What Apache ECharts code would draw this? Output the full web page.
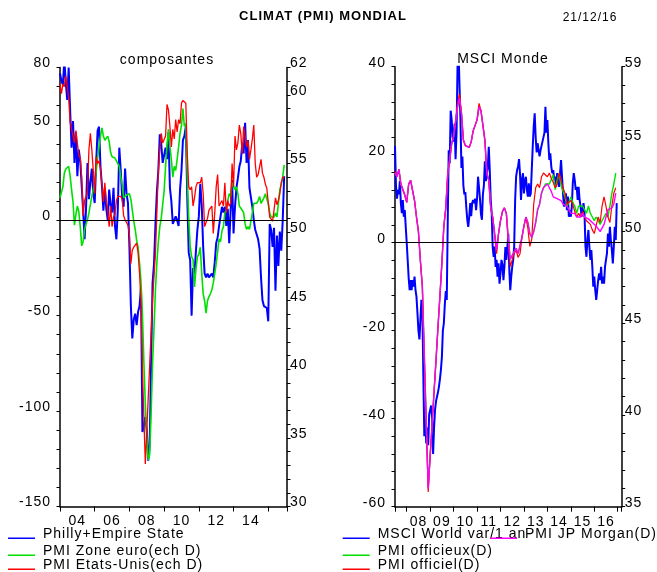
<!DOCTYPE html>
<html><head><meta charset="utf-8">
<script src="https://cdn.jsdelivr.net/npm/echarts@6/dist/echarts.min.js"></script>
<style>html,body{margin:0;padding:0;background:#fff}#c{width:657px;height:572px}</style>
</head><body><div id="c"></div>
<script>
// slight letter spacing to mimic the original rendering
(function(){
  var P = window.CanvasRenderingContext2D && CanvasRenderingContext2D.prototype;
  if (!P || !('letterSpacing' in P)) return;
  var f = P.fillText;
  P.fillText = function(){ this.letterSpacing = '1px'; return f.apply(this, arguments); };
})();

// ---------- LEFT PANEL : monthly, Jan 2004 .. Dec 2016 ----------
const leftStartYear = 2004;
const phillyEmpire = [
  77, 73, 71, 84, 72, 63, 80, 58, 38, 52, 30, 46,
  23, 37, 31, 18, 5, -10, 6, 30, 11, 20, 27, 14,
  9, 30, 47, 49, 28, 18, 5, 17, 6, 0, 16, 8,
  4, 17, -3, -10, 6, 38, 26, 12, 7, 27, 14, 9,
  -14, -45, -62, -52, -49, -55, -48, -45, -35, -111, -108, -103,
  -110, -126, -118, -75, -33, -23, -2, 15, 26, 45, 40, 30,
  30, 38, 32, 46, 17, 10, -2, -1, 2, 0, -3, 16,
  26, 42, 44, 49, 12, -17, -21, -50, -25, -28, -16, -5,
  2, 19, 8, -14, -28, -30, -28, -30, -31, -28, -30, -22,
  -12, -9, -3, 2, 7, 4, 7, -3, 6, -12, 5, 21,
  -7, 7, 17, 22, 28, 31, 40, 35, 51, 30, 42, 17,
  12, 7, 0, -5, -5, -10, -15, -30, -42, -45, -45, -46,
  -53, -2, -5, -14, -4, -37, -8, -24, -6, -16, 0, 23
];
const pmiEuro = [
  52.5, 52.6, 53.3, 54.3, 54.6, 54.5, 54.8, 54.1, 53.1, 52.2, 50.5, 51.3,
  51.9, 51.5, 50.4, 49.0, 49.3, 50.2, 50.6, 50.9, 51.4, 52.0, 52.6, 53.1,
  53.6, 54.4, 55.4, 56.2, 57.0, 57.6, 57.0, 56.7, 56.6, 57.0, 56.6, 55.8,
  55.5, 55.5, 55.4, 55.2, 55.1, 54.8, 54.0, 53.5, 52.5, 52.4, 52.7, 52.8,
  52.8, 52.4, 51.6, 50.8, 50.2, 49.4, 48.9, 47.7, 46.4, 44.0, 40.5, 37.5,
  35.0, 33.4, 33.8, 36.8, 40.4, 43.0, 45.8, 47.8, 49.3, 50.4, 51.0, 52.0,
  53.0, 54.8, 56.4, 57.5, 56.2, 55.3, 54.0, 54.8, 54.5, 55.3, 56.2, 57.2,
  57.8, 59.0, 57.7, 57.9, 54.0, 51.0, 49.0, 48.2, 48.0, 46.0, 47.3, 48.2,
  48.4, 48.9, 47.0, 45.5, 45.0, 44.1, 45.0, 45.3, 45.5, 45.8, 46.3, 47.0,
  47.7, 48.6, 49.5, 49.3, 50.1, 50.4, 51.4, 51.6, 52.3, 52.8, 52.6, 53.6,
  53.7, 53.1, 53.3, 52.8, 51.9, 51.9, 51.6, 51.4, 50.6, 50.2, 50.4, 50.2,
  50.8, 51.4, 52.1, 52.2, 52.1, 52.3, 52.6, 52.1, 52.3, 52.5, 52.8, 52.4,
  52.1, 51.4, 51.1, 51.1, 51.1, 51.4, 51.1, 52.1, 53.1, 53.5, 54.0, 54.9
];
const pmiUS = [
  60.8, 60.1, 60.8, 60.6, 61.4, 60.6, 59.8, 58.0, 57.9, 57.0, 56.5, 57.4,
  56.5, 55.6, 55.4, 54.0, 51.2, 52.3, 52.6, 53.0, 56.0, 57.2, 56.0, 54.5,
  52.8, 55.5, 55.0, 55.2, 54.6, 53.5, 52.2, 53.6, 52.2, 51.6, 50.4, 51.9,
  50.4, 51.1, 51.3, 52.3, 52.6, 52.6, 52.6, 52.4, 51.2, 50.9, 50.7, 50.5,
  49.8, 47.7, 48.7, 48.9, 48.8, 49.2, 48.5, 47.0, 45.0, 40.0, 36.5, 33.1,
  35.5, 37.9, 40.3, 42.7, 45.1, 46.8, 48.5, 51.5, 54.5, 56.0, 57.2, 56.5,
  56.5, 57.0, 59.3, 58.9, 57.7, 56.2, 57.5, 56.8, 58.2, 57.3, 58.2, 57.9,
  59.4, 59.6, 59.5, 59.4, 55.7, 53.3, 53.1, 53.3, 51.9, 52.5, 53.3, 53.6,
  53.5, 53.6, 54.0, 52.8, 50.4, 50.3, 51.0, 51.6, 51.6, 51.9, 49.9, 51.4,
  53.3, 54.2, 51.9, 52.1, 52.3, 51.9, 53.6, 51.4, 52.3, 51.9, 52.1, 55.0,
  53.3, 57.0, 56.0, 56.5, 57.8, 57.2, 55.7, 57.7, 57.0, 56.2, 56.7, 55.3,
  56.0, 56.8, 57.8, 55.0, 54.0, 54.2, 54.1, 55.3, 54.3, 54.0, 53.5, 53.2,
  53.3, 51.1, 51.2, 50.8, 51.6, 52.5, 52.0, 52.3, 52.8, 53.6, 54.0, 54.0
];

// ---------- RIGHT PANEL ----------
// MSCI World y/y, twice a month, Jul 2007 .. Dec 2016
const msciStart = 2007.5;
const msciWorld = [
  22, 13, 10, 12, 11, 14, 9, 6.7, 9.7, 5.9, 7.4, 3.6,
  0, -4, -8, -10.8, -8.5, -10.8, -8.5, -10, -7.7, -10.8, -12.3, -16, -20, -22, -17.6, -13, -14.5, -30, -44, -40, -45.6, -42, -46, -39,
  -38, -37, -40, -48, -42, -38, -36, -35, -34, -32.7, -31, -28.9, -26, -20, -18.3, -14, -11, -13, 5, 21, 18, 30, 28, 24,
  23, 27, 19, 25, 40, 44, 36, 28, 17, 19.6, 13, 11, 11.5, 8, 5.2, 3.6, 5.9, 9, 6, 9, 9.7, 9, 10, 7.4,
  10, 15, 15, 10, 6.5, 5.2, 11, 13, 18.5, 14, 15.8, 17, 21.8, 16.5, 9.7, 6.7, -0.9, -3.2, -0.9, -5.5, -3.9, -7.7, -4.7, -9.3,
  -7, -3.9, -5, -8.5, -5.5, -1, -3.9, -1, 2, -6, -10.8, -7.7, -5.5, -3.9, -0.9, 9.7, 15, 16.5, 17.3, 19, 15.5, 9.7, 14.2, 15.8,
  11.2, 14.2, 15, 12, 10.5, 13.5, 10.5, 11.2, 16.5, 21.8, 26.4, 29.4, 24, 20.5, 22.6, 23, 19.6, 21, 22, 22, 24, 25, 30.9, 25,
  27.9, 22.6, 18.8, 20.3, 17.3, 15.8, 16.5, 14.2, 15, 12.7, 15.8, 15, 12.7, 15.8, 18.8, 15, 11.2, 8.2, 9.7, 11.2, 7.4, 10.5, 5.9, 7.4,
  5.9, 8.2, 13.5, 15.8, 14.2, 12, 12.7, 9.7, 12.7, 9.7, 8.2, 5.9, 7.4, 9, 6.7, -0.9, -3.2, 0.6, 2.9, -0.9, -3.9, -1.7, -5.5, -10,
  -7.7, -10.8, -13, -12.6, -8.5, -7, -8.5, -5.5, -9.3, -7.7, -9.3, -5.5, -3.9, -2.4, 2.1, -0.9, 3.6, 0.6, -1.7, -4.7, -0.9, 3.6, 0.6, 9
];
// PMI series, monthly, Jul 2007 .. Dec 2016
const pmiStart = 2007.5;
const pmiJPMorgan = [
  53.2, 53.0, 53.4, 52.6, 52.3, 52.0,
  51.6, 52.6, 52.8, 52.8, 51.7, 50.8, 50.0, 48.4, 47.0, 43.3, 39.6, 36.0,
  37.8, 39.5, 41.3, 43.0, 44.8, 46.5, 48.3, 50.3, 51.3, 53.2, 53.9, 54.8,
  55.2, 56.0, 56.8, 57.3, 56.5, 55.0, 54.7, 54.6, 54.6, 54.9, 55.5, 55.8,
  56.1, 56.8, 56.6, 56.5, 55.0, 53.2, 52.8, 51.3, 50.8, 49.9, 49.0, 49.9,
  50.6, 51.1, 51.3, 51.0, 49.6, 48.5, 48.4, 48.9, 49.1, 48.8, 48.9, 49.7,
  50.3, 50.8, 50.5, 49.9, 49.7, 50.0, 50.5, 51.2, 51.5, 52.1, 52.4, 52.5,
  52.6, 52.5, 52.2, 51.9, 52.0, 51.8, 51.9, 51.7, 51.5, 51.5, 51.4, 51.2,
  51.0, 51.1, 51.0, 50.8, 50.9, 50.8, 51.0, 50.8, 50.7, 50.7, 50.6, 50.5,
  50.4, 50.3, 50.2, 50.0, 50.1, 50.4, 50.8, 51.2, 51.2, 51.3, 51.5, 52.1
];
const pmiOfficieux = [
  53.2, 53.0, 53.4, 52.6, 52.3, 52.0,
  51.6, 52.6, 52.8, 52.8, 51.7, 50.8, 50.0, 48.4, 47.0, 43.3, 39.6, 36.0,
  37.8, 39.5, 41.3, 43.0, 44.8, 46.5, 48.3, 50.3, 51.3, 53.2, 53.9, 54.8,
  55.2, 56.0, 56.8, 57.3, 56.5, 55.0, 54.7, 54.6, 54.6, 54.9, 55.5, 55.8,
  56.1, 56.8, 56.6, 56.5, 55.0, 53.2, 52.8, 51.3, 50.8, 49.9, 49.0, 49.9,
  50.6, 51.1, 51.3, 51.0, 49.6, 48.5, 48.4, 48.9, 49.1, 48.8, 48.9, 49.7,
  50.3, 50.8, 50.5, 49.9, 49.7, 50.0, 50.5, 51.2, 51.5, 52.1, 52.4, 52.6,
  52.5, 52.6, 52.6, 53.1, 52.3, 52.8, 53.2, 52.5, 52.2, 51.9, 51.4, 51.6,
  51.9, 51.6, 51.4, 51.0, 51.4, 51.3, 51.4, 51.4, 51.0, 51.4, 51.0, 50.8,
  50.6, 50.8, 50.8, 50.4, 50.5, 50.8, 51.0, 50.8, 51.4, 52.1, 52.6, 53.2
];
const pmiOfficiel = [
  53.3, 53.0, 53.4, 52.6, 52.3, 52.0,
  51.6, 52.6, 52.8, 52.8, 51.7, 50.8, 50.0, 48.4, 47.0, 43.1, 39.4, 35.8,
  37.8, 39.5, 41.3, 43.0, 44.8, 46.5, 48.3, 50.3, 51.3, 53.2, 53.9, 54.8,
  55.2, 56.0, 57.0, 57.5, 56.5, 55.0, 54.7, 54.6, 54.6, 54.9, 55.5, 55.8,
  56.1, 57.0, 56.6, 56.5, 55.0, 53.2, 52.8, 51.3, 50.8, 49.8, 48.8, 49.9,
  50.6, 51.1, 51.3, 51.0, 49.4, 48.1, 48.2, 48.8, 49.0, 48.6, 48.8, 49.7,
  50.3, 50.8, 50.2, 49.2, 49.6, 51.5, 52.4, 52.6, 52.4, 53.0, 53.2, 53.3,
  53.0, 53.2, 52.9, 52.7, 52.4, 52.6, 53.2, 52.8, 52.4, 52.1, 51.5, 51.4,
  51.7, 51.5, 51.1, 50.8, 51.0, 50.8, 51.1, 50.8, 50.6, 50.6, 50.4, 50.1,
  49.9, 50.0, 50.8, 50.5, 51.4, 51.9, 51.4, 50.8, 50.5, 51.4, 52.1, 52.4
];

// ---------- axis ticks / labels ----------
const leftXLabels = ['04', '06', '08', '10', '12', '14'];
const rightXLabels = ['08', '09', '10', '11', '12', '13', '14', '15', '16'];
const leftYLabels = [-150, -100, -50, 0, 50, 80];
const leftY2Labels = [30, 35, 40, 45, 50, 55, 60, 62];
const rightYLabels = [-60, -40, -20, 0, 20, 40];
const rightY2Labels = [35, 40, 45, 50, 55, 59];

function range(a, b, s) { const r = []; for (let v = a; v <= b + 1e-9; v += s) r.push(+v.toFixed(4)); return r; }
function toPairs(start, step, arr) { return arr.map((v, i) => [start + i * step, v]); }

const F = "'Liberation Sans', Arial, sans-serif";
const leftXLabelPos = leftXLabels.map(s => 2000 + parseInt(s, 10) + 1);
const rightXLabelPos = rightXLabels.map(s => 2000 + parseInt(s, 10) + 0.5);
const leftXTicks = range(2004, 2016, 2).concat([2017.08]);
const rightXTicks = [2007.5].concat(range(2008, 2017, 1)).concat([2017.17]);

function xAxis(grid, min, max, ticks, labelPos, labels) {
  return {
    type: 'value', gridIndex: grid, min: min, max: max,
    axisLine: { show: true, onZero: false, lineStyle: { color: '#000', width: 1.5 } },
    axisTick: { show: true, customValues: ticks, length: 5, inside: false, lineStyle: { color: '#000', width: 1 } },
    axisLabel: { show: true, customValues: labelPos, margin: 8, color: '#000', fontFamily: F, fontSize: 14,
      formatter: v => labels[labelPos.findIndex(p => Math.abs(p - v) < 1e-6)] || '' },
    splitLine: { show: false }
  };
}
function yAxis(grid, pos, min, max, ticks, labels, margin) {
  return {
    type: 'value', gridIndex: grid, position: pos, min: min, max: max,
    axisLine: { show: true, onZero: false, lineStyle: { color: '#000', width: 1.5 } },
    axisTick: { show: true, customValues: ticks, length: 3.5, inside: false, lineStyle: { color: '#000', width: 1 } },
    axisLabel: { show: true, customValues: labels, margin: margin, color: '#000', fontFamily: F, fontSize: 14,
      verticalAlign: 'bottom', lineHeight: 8 },
    splitLine: { show: false }
  };
}
const zeroLine = { silent: true, symbol: ['none', 'none'], label: { show: false }, animation: false,
  lineStyle: { color: '#000', width: 1.2, type: 'solid' }, data: [{ yAxis: 0 }] };

const ICON = 'path://M0,0L30,0L30,0.01L0,0.01ZM0,8.5L27,8.5L27,10L0,10Z';
function legendAt(name, left, top) {
  return { data: [name], left: left, top: top, orient: 'horizontal', itemWidth: 30, itemHeight: 10,
    icon: ICON, selectedMode: false, padding: 0, itemGap: 0, itemStyle: { borderWidth: 0 },
    textStyle: { fontFamily: F, fontSize: 14, color: '#000', lineHeight: 14 } };
}
function line(name, xi, yi, data, color, width) {
  return { name: name, type: 'line', xAxisIndex: xi, yAxisIndex: yi, data: data, symbol: 'none',
    showSymbol: false, clip: true, lineStyle: { color: color, width: width }, itemStyle: { color: color },
    emphasis: { disabled: true }, animation: false };
}

const chart = echarts.init(document.getElementById('c'), null, { renderer: 'canvas' });
const s1 = line('Philly+Empire State', 0, 0, toPairs(leftStartYear, 1 / 12, phillyEmpire), '#0000ff', 2);
s1.markLine = zeroLine;
const s4 = line('MSCI World var/1 an', 1, 2, toPairs(msciStart, 1 / 24, msciWorld), '#0000ff', 2);
s4.markLine = zeroLine;

chart.setOption({
  animation: false,
  backgroundColor: '#fff',
  grid: [
    { left: 60, top: 67.5, width: 227, height: 439 },
    { left: 395, top: 66.7, width: 226.7, height: 440 }
  ],
  xAxis: [
    xAxis(0, 2004, 2017.08, leftXTicks, leftXLabelPos, leftXLabels),
    xAxis(1, 2007.5, 2017.17, rightXTicks, rightXLabelPos, rightXLabels)
  ],
  yAxis: [
    yAxis(0, 'left', -150, 80, range(-150, 80, 10), leftYLabels, 9),
    yAxis(0, 'right', 30, 62, range(30, 62, 1), leftY2Labels, 3),
    yAxis(1, 'left', -60, 40, range(-60, 40, 4), rightYLabels, 9),
    yAxis(1, 'right', 35, 59, range(35, 59, 1), rightY2Labels, 3)
  ],
  legend: [
    legendAt('Philly+Empire State', 8, 527),
    legendAt('PMI Zone euro(ech D)', 8, 544),
    legendAt('PMI Etats-Unis(ech D)', 8, 558),
    legendAt('MSCI World var/1 an', 342.7, 527),
    legendAt('PMI JP Morgan(D)', 490, 527),
    legendAt('PMI officieux(D)', 342.7, 544),
    legendAt('PMI officiel(D)', 342.7, 558)
  ],
  graphic: [
    { type: 'text', x: 323, y: 16, style: { text: 'CLIMAT (PMI) MONDIAL', align: 'center', verticalAlign: 'middle', fontFamily: F, fontSize: 13, fontWeight: 'bold', fill: '#000' } },
    { type: 'text', x: 590, y: 18, style: { text: '21/12/16', align: 'center', verticalAlign: 'middle', fontFamily: F, fontSize: 12, fill: '#000' } },
    { type: 'text', x: 167, y: 60, style: { text: 'composantes', align: 'center', verticalAlign: 'middle', fontFamily: F, fontSize: 14, fill: '#000' } },
    { type: 'text', x: 503, y: 59, style: { text: 'MSCI Monde', align: 'center', verticalAlign: 'middle', fontFamily: F, fontSize: 14, fill: '#000' } }
  ],
  series: [
    s1,
    line('PMI Zone euro(ech D)', 0, 1, toPairs(leftStartYear, 1 / 12, pmiEuro), '#00e000', 1.6),
    line('PMI Etats-Unis(ech D)', 0, 1, toPairs(leftStartYear, 1 / 12, pmiUS), '#ff0000', 1.3),
    s4,
    line('PMI officieux(D)', 1, 3, toPairs(pmiStart, 1 / 12, pmiOfficieux), '#00e000', 1.4),
    line('PMI officiel(D)', 1, 3, toPairs(pmiStart, 1 / 12, pmiOfficiel), '#ff0000', 1.2),
    line('PMI JP Morgan(D)', 1, 3, toPairs(pmiStart, 1 / 12, pmiJPMorgan), '#ff00ff', 1.4)
  ]
});
</script></body></html>
